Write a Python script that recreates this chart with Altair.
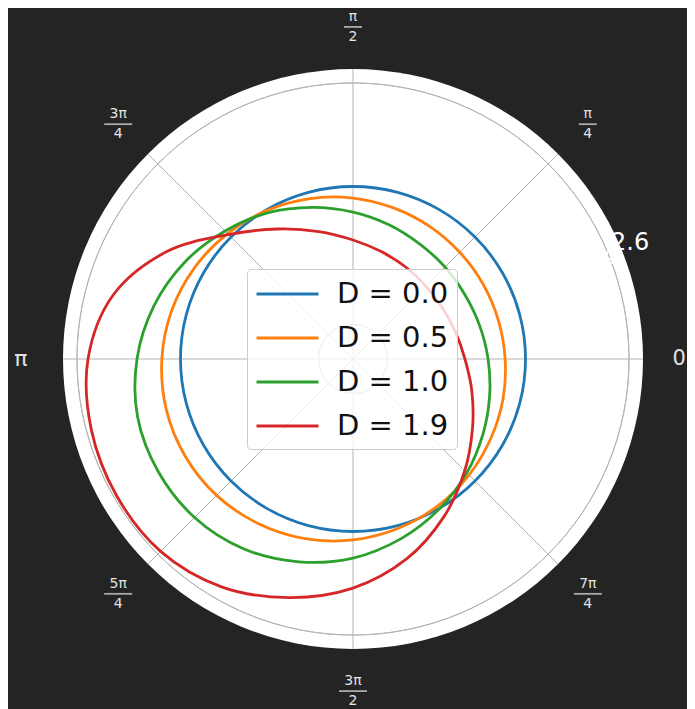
import altair as alt
import pandas as pd

# ---------------- data ----------------
theta_deg = [0, 15, 30, 45, 60, 75, 90, 105, 120, 135, 150, 165,
             180, 195, 210, 225, 240, 255, 270, 285, 300, 315, 330, 345]
series_names = ["D = 0.0", "D = 0.5", "D = 1.0", "D = 1.9"]
r_d00 = [2.000, 2.000, 2.000, 2.000, 2.000, 2.000, 2.000, 2.000, 2.000, 2.000, 2.000, 2.000,
         2.000, 2.000, 2.000, 2.000, 2.000, 2.000, 2.000, 2.000, 2.000, 2.000, 2.000, 2.000]
r_d05 = [1.882, 1.872, 1.870, 1.875, 1.888, 1.907, 1.933, 1.963, 1.995, 2.028, 2.060, 2.088,
         2.108, 2.121, 2.124, 2.118, 2.101, 2.078, 2.049, 2.016, 1.983, 1.951, 1.922, 1.900]
r_d10 = [1.783, 1.759, 1.748, 1.754, 1.771, 1.806, 1.852, 1.910, 1.980, 2.049, 2.125, 2.194,
         2.252, 2.293, 2.304, 2.299, 2.270, 2.217, 2.154, 2.078, 2.003, 1.933, 1.870, 1.820]
r_d19 = [1.649, 1.614, 1.597, 1.597, 1.614, 1.643, 1.690, 1.765, 1.870, 2.020, 2.246, 2.438,
         2.536, 2.571, 2.583, 2.577, 2.525, 2.432, 2.328, 2.200, 2.055, 1.916, 1.800, 1.713]
series_colors = ["#1f77b4", "#ff7f0e", "#2ca02c", "#d62728"]

ring_ticks = [1.2, 1.4, 1.6, 1.8, 2.0, 2.2, 2.4, 2.6]
ring_labels = ["1.2", "1.4", "1.6", "1.8", "2.0", "2.2", "2.4", "2.6"]
r_lim = [1.0, 2.681]
spoke_deg = [0, 45, 90, 135, 180, 225, 270, 315]
angle_num = ["0", "π", "π", "3π", "π", "5π", "3π", "7π"]
angle_den = ["", "4", "2", "4", "", "4", "2", "4"]

# ---------------- layout / style ----------------
W = 580
R0 = r_lim[0]
SPAN = r_lim[1] - r_lim[0]
LABEL_R = 1.925
GRID = "#b4b4b4"
TXT = "#e2e2e2"
BG = "#242424"
FONT = "DejaVu Sans"

rows = []
for name, vals in zip(series_names, [r_d00, r_d05, r_d10, r_d19]):
    for t, r in zip(theta_deg, vals):
        rows.append({"series": name, "theta": t, "r": r})
curves = pd.DataFrame(rows)

xs = alt.Scale(domain=[-SPAN, SPAN], nice=False, zero=False)
ys = alt.Scale(domain=[-SPAN, SPAN], nice=False, zero=False)
rs = alt.Scale(type="linear", domain=r_lim, range=[0, W / 2], zero=False, nice=False)

disc = alt.Chart(pd.DataFrame({"rv": [r_lim[1]]})).mark_arc(
    fill="white", stroke="white", strokeWidth=0
).encode(
    radius=alt.Radius("rv:Q", scale=rs),
    theta=alt.value(0), theta2=alt.value(6.2832),
)

rings = alt.Chart(pd.DataFrame({"rv": ring_ticks})).mark_arc(
    fill="white", fillOpacity=0, stroke=GRID, strokeWidth=1
).encode(
    radius=alt.Radius("rv:Q", scale=rs),
    theta=alt.value(0), theta2=alt.value(6.2832),
)

spokes = alt.Chart(pd.DataFrame({"a": spoke_deg})).transform_calculate(
    sx=f"{SPAN} * cos(datum.a * PI / 180)",
    sy=f"{SPAN} * sin(datum.a * PI / 180)",
    z="0",
).mark_rule(stroke=GRID, strokeWidth=1).encode(
    x=alt.X("z:Q", scale=xs, axis=None),
    y=alt.Y("z:Q", scale=ys, axis=None),
    x2="sx:Q", y2="sy:Q",
)

# radial tick labels (white, drawn under the curves like matplotlib)
rlabels = alt.Chart(pd.DataFrame({"rv": ring_ticks, "lab": ring_labels})).transform_filter(
    "datum.rv >= 1.8"
).transform_calculate(
    lx=f"(datum.rv - {R0}) * cos(22.5 * PI / 180)",
    ly=f"(datum.rv - {R0}) * sin(22.5 * PI / 180)",
).mark_text(align="left", baseline="alphabetic", dx=3, dy=-3, fontSize=24,
            font=FONT, color="white").encode(
    x=alt.X("lx:Q", scale=xs, axis=None),
    y=alt.Y("ly:Q", scale=ys, axis=None),
    text="lab:N",
)

lines = alt.Chart(curves).transform_calculate(
    px=f"(datum.r - {R0}) * cos(datum.theta * PI / 180)",
    py=f"(datum.r - {R0}) * sin(datum.theta * PI / 180)",
).mark_line(interpolate="cardinal-closed", strokeWidth=2.8).encode(
    x=alt.X("px:Q", scale=xs, axis=None),
    y=alt.Y("py:Q", scale=ys, axis=None),
    order=alt.Order("theta:Q"),
    color=alt.Color(
        "series:N",
        scale=alt.Scale(domain=series_names, range=series_colors),
        legend=alt.Legend(
            title=None, orient="none", legendX=184, legendY=200,
            fillColor="rgba(255,255,255,0.8)", strokeColor="#cccccc",
            cornerRadius=4, padding=8,
            labelFontSize=29, labelFont=FONT, labelColor="#111111",
            symbolType="M-1,0H3", symbolSize=961, symbolStrokeWidth=3,
            labelOffset=48, rowPadding=12,
        ),
    ),
)

ang = alt.Chart(pd.DataFrame({"a": spoke_deg, "num": angle_num, "den": angle_den})).transform_calculate(
    lx=f"{LABEL_R} * cos(datum.a * PI / 180)",
    ly=f"{LABEL_R} * sin(datum.a * PI / 180)",
    bw="length(datum.num) > 1 ? 28 : 18",
)
enc = dict(x=alt.X("lx:Q", scale=xs, axis=None), y=alt.Y("ly:Q", scale=ys, axis=None))

single_pi = ang.transform_filter("datum.den == '' && datum.a > 0").mark_text(
    fontSize=22, font=FONT, color=TXT, baseline="middle", align="center"
).encode(text="num:N", **enc)
single_zero = ang.transform_filter("datum.den == '' && datum.a == 0").mark_text(
    fontSize=21, font=FONT, color=TXT, baseline="middle", align="center", dx=-6
).encode(text="num:N", **enc)
nums = ang.transform_filter("datum.den != ''").mark_text(
    fontSize=14, font=FONT, color=TXT, baseline="middle", align="center", dy=-10
).encode(text="num:N", **enc)
dens = ang.transform_filter("datum.den != ''").mark_text(
    fontSize=14, font=FONT, color=TXT, baseline="middle", align="center", dy=10
).encode(text="den:N", **enc)
bars = ang.transform_filter("datum.den != ''").mark_tick(
    orient="horizontal", thickness=1.8, color=TXT
).encode(size=alt.Size("bw:Q", scale=None, legend=None), **enc)

chart = alt.layer(disc, rings, spokes, rlabels, lines, single_pi, single_zero,
                  nums, dens, bars).properties(
    width=W, height=W,
    padding={"left": 55, "top": 61, "right": 44, "bottom": 60},
    autosize=alt.AutoSizeParams(type="none"),
    background=BG,
).configure_view(strokeWidth=0)

chart.save("out.html", embed_options={"renderer": "svg", "actions": False})
